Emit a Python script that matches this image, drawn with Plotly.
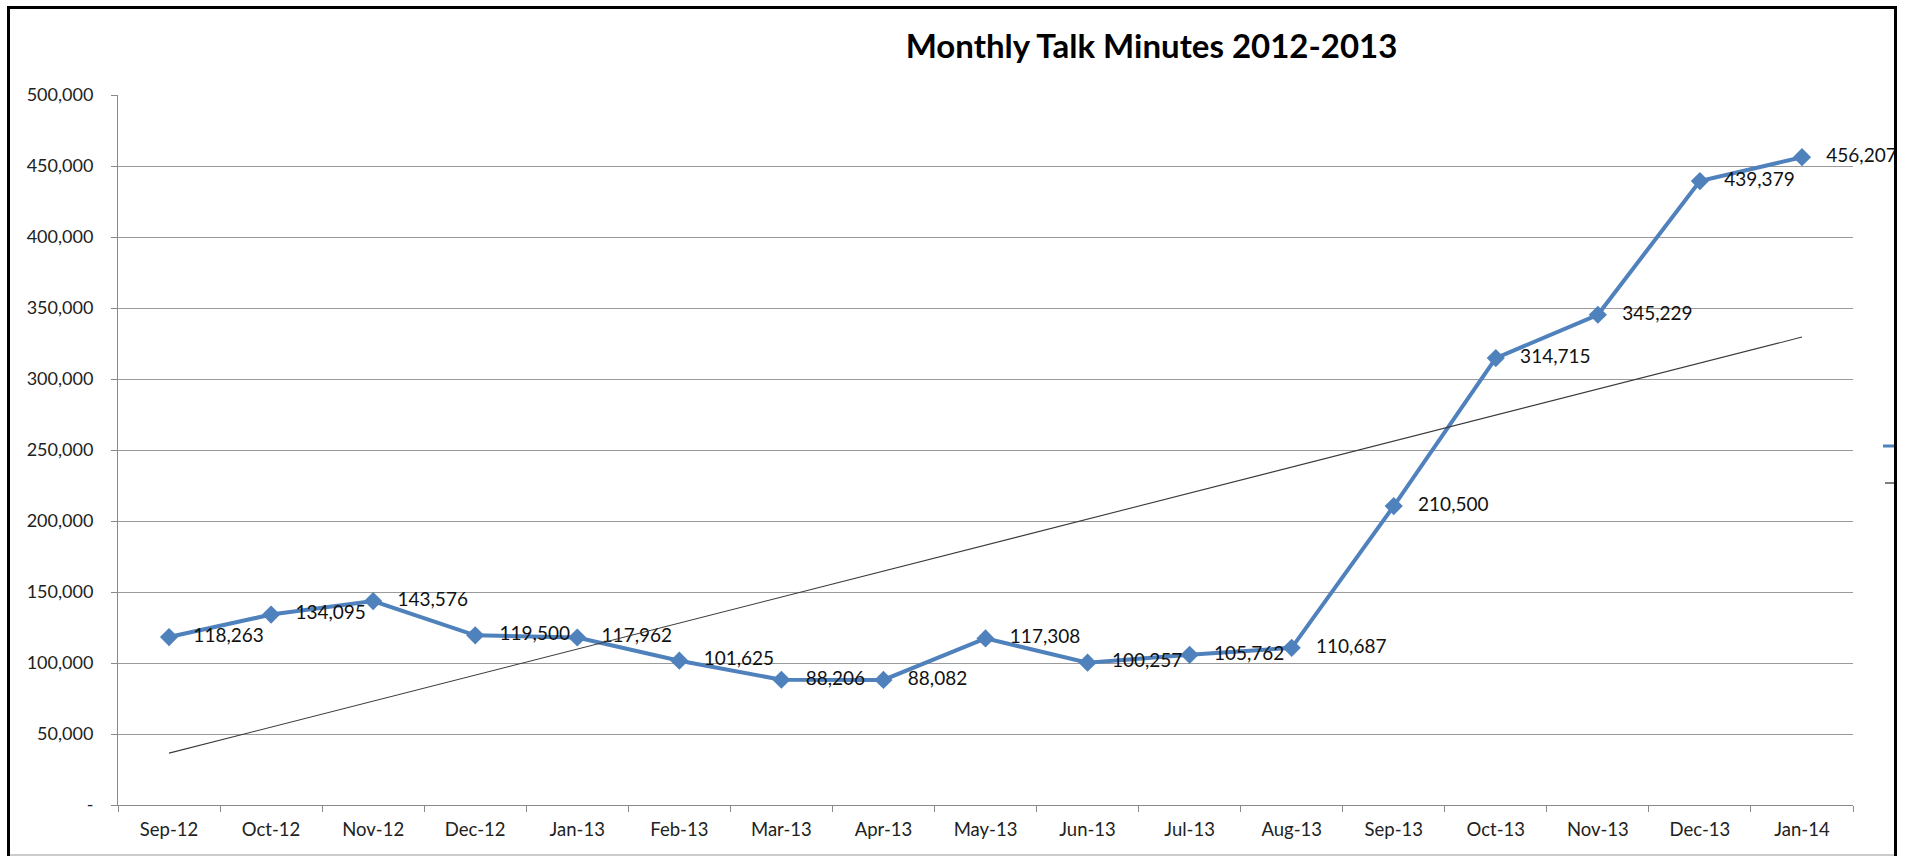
import numpy as np
import plotly.graph_objects as go

months = ["Sep-12", "Oct-12", "Nov-12", "Dec-12", "Jan-13", "Feb-13", "Mar-13", "Apr-13",
          "May-13", "Jun-13", "Jul-13", "Aug-13", "Sep-13", "Oct-13", "Nov-13", "Dec-13", "Jan-14"]
minutes = [118263, 134095, 143576, 119500, 117962, 101625, 88206, 88082,
           117308, 100257, 105762, 110687, 210500, 314715, 345229, 439379, 456207]
y_ticks = [0, 50000, 100000, 150000, 200000, 250000, 300000, 350000, 400000, 450000, 500000]
y_ticktext = ["-", "50,000", "100,000", "150,000", "200,000", "250,000", "300,000",
              "350,000", "400,000", "450,000", "500,000"]

# Linear trendline (as Excel computes it) over the month index
idx = np.arange(len(minutes))
slope, intercept = np.polyfit(idx, minutes, 1)
trend = [intercept, slope * idx[-1] + intercept]

FONT = "Lato"
W, H = 1910, 856
L, R, T, B = 118, 1853, 95, 805

def px_x(p):
    return (p - L) / (R - L)

def px_y(p):
    return (B - p) / (B - T)

fig = go.Figure()
fig.add_trace(go.Scatter(
    x=months, y=minutes, mode="lines+markers+text",
    line=dict(color="#4F81BD", width=4),
    marker=dict(symbol="diamond", size=14, color="#4F81BD"),
    texttemplate="\u00a0\u00a0\u00a0%{y:,}", textposition="middle right",
    textfont=dict(family=FONT, size=19, color="#111111"),
    cliponaxis=False, showlegend=False))
fig.add_trace(go.Scatter(
    x=[months[0], months[-1]], y=trend, mode="lines",
    line=dict(color="#3a3a3a", width=1.1), hoverinfo="skip", showlegend=False))

shapes = []
# outer chart border
shapes.append(dict(type="line", xref="paper", yref="paper", x0=px_x(8.5), x1=px_x(8.5),
                   y0=px_y(7.5), y1=px_y(856), line=dict(color="#000", width=3)))
shapes.append(dict(type="line", xref="paper", yref="paper", x0=px_x(7), x1=px_x(1897),
                   y0=px_y(7.5), y1=px_y(7.5), line=dict(color="#000", width=3)))
shapes.append(dict(type="line", xref="paper", yref="paper", x0=px_x(1895.5), x1=px_x(1895.5),
                   y0=px_y(7.5), y1=px_y(856), line=dict(color="#000", width=3)))
shapes.append(dict(type="line", xref="paper", yref="paper", x0=px_x(10), x1=px_x(1894),
                   y0=px_y(855), y1=px_y(855), line=dict(color="#9a9a9a", width=1)))
# clipped legend fragments at the right edge
shapes.append(dict(type="line", xref="paper", yref="paper", x0=px_x(1883), x1=px_x(1894),
                   y0=px_y(446), y1=px_y(446), line=dict(color="#4F81BD", width=3)))
shapes.append(dict(type="line", xref="paper", yref="paper", x0=px_x(1885), x1=px_x(1894),
                   y0=px_y(483), y1=px_y(483), line=dict(color="#555", width=1.5)))

fig.update_layout(
    width=W, height=H,
    margin=dict(l=L, r=W - R, t=T, b=H - B, pad=0),
    paper_bgcolor="white", plot_bgcolor="white",
    font=dict(family=FONT, size=18, color="#222"),
    title=dict(text="<b>Monthly Talk Minutes 2012-2013</b>", x=1151.5 / W, xanchor="center",
               y=1 - 46 / H, yanchor="middle", font=dict(family=FONT, size=33, color="#000")),
    shapes=shapes,
    xaxis=dict(type="category", categoryorder="array", categoryarray=months,
               range=[-0.5, len(months) - 0.5], showgrid=False,
               showline=True, linecolor="#8a8a8a", linewidth=1,
               ticks="outside", tickson="boundaries", ticklen=6, tickcolor="#8a8a8a",
               tickfont=dict(family=FONT, size=18.5, color="#222"), ticklabelstandoff=8,
               zeroline=False, fixedrange=True),
    yaxis=dict(range=[0, 500000], tickvals=y_ticks, ticktext=y_ticktext,
               showgrid=True, gridcolor="#9a9a9a", gridwidth=1,
               showline=True, linecolor="#8a8a8a", linewidth=1,
               ticks="outside", ticklen=6, tickcolor="#8a8a8a",
               tickfont=dict(family=FONT, size=18, color="#222"), ticklabelstandoff=14,
               zeroline=False, fixedrange=True),
)

fig.write_html("out.html")
